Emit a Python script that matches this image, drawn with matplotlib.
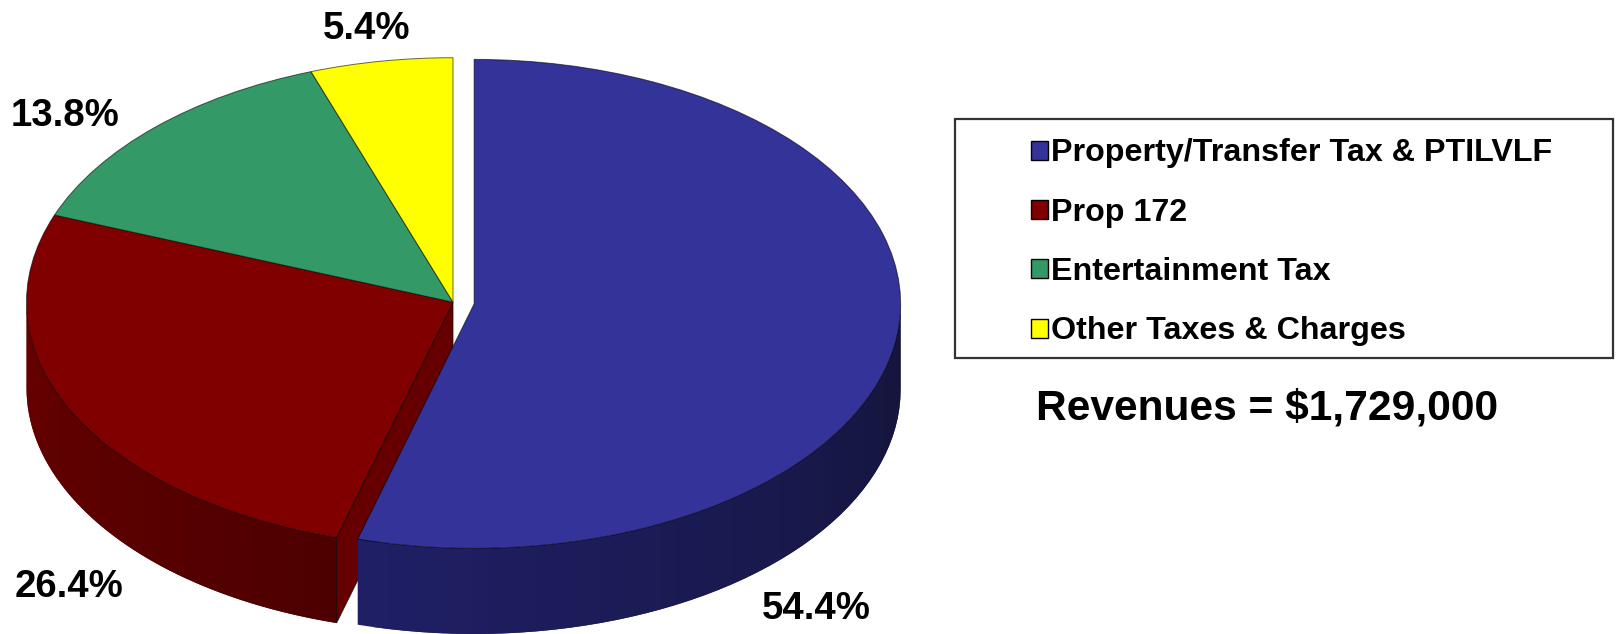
import numpy as np
import matplotlib
matplotlib.use("Agg")
import matplotlib.pyplot as plt
from matplotlib.patches import Patch, Rectangle

plt.rcParams['font.family'] = ['Liberation Sans', 'DejaVu Sans']

# Data.
categories = ['Property/Transfer Tax & PTILVLF', 'Prop 172', 'Entertainment Tax', 'Other Taxes & Charges']
shares = [54.4, 26.4, 13.8, 5.4]
share_labels = ['54.4%', '26.4%', '13.8%', '5.4%']
explode = [0.05, 0, 0, 0]
total_text = 'Revenues = $1,729,000'

# Styles.
top_colors = ['#333399', '#800000', '#339966', '#FFFF00']
wall_start = {0: '#1f1f66', 1: '#680000'}   # left end of the wall
wall_end = {0: '#14143a', 1: '#4d0000'}     # right end of the wall
cut_color = '#660000'

W, H = 1618, 634
cx, cy = 453, 302.2      # pie centre in pixels
rx, ry = 426.5, 244.5    # squashed radius in pixels
depth = 85.6 / ry

fig = plt.figure(figsize=(W / 100, H / 100), dpi=100, facecolor='white')
ax = fig.add_axes([0, 0, 1, 1])
wedges, _ = ax.pie(shares, explode=explode, colors=top_colors, startangle=90, counterclock=False,
                   wedgeprops={'edgecolor': (0, 0, 0, 0.6), 'linewidth': 0.7})
for w in wedges:
    w.set_zorder(5)
ax.set_aspect('auto')
ax.set_xlim(-cx / rx, (W - cx) / rx)
ax.set_ylim((cy - H) / ry, cy / ry)


def mix(c1, c2, t):
    a = np.array(matplotlib.colors.to_rgb(c1))
    b = np.array(matplotlib.colors.to_rgb(c2))
    return a + (b - a) * t


def draw_wall(i, z):
    # Outer side of a slice, only the part that faces the viewer (lower half).
    w = wedges[i]
    t1, t2 = w.theta1 % 360, w.theta2 % 360
    if t2 <= t1:
        t2 += 360
    t1, t2 = max(t1, 180), min(t2, 360)
    edges = np.radians(np.linspace(t1, t2, 49))
    x0, y0 = w.center
    n = len(edges) - 1
    for k in range(n):
        # Each strip runs under the next one, so no seams show between them.
        a = edges[k:k + 3]
        xs = x0 + np.cos(a)
        ys = y0 + np.sin(a)
        col = mix(wall_start[i], wall_end[i], (k + 0.5) / n)
        ax.fill(np.r_[xs, xs[::-1]], np.r_[ys, ys[::-1] - depth],
                facecolor=col, edgecolor='none', zorder=z + k * 0.001)


# Red slice: outer wall and cut face, these sit behind the blue slice.
draw_wall(1, 1)
t = np.radians(wedges[1].theta2)
ex, ey = np.cos(t), np.sin(t)
ax.fill([0, ex, ex, 0], [0, ey, ey - depth, -depth], facecolor=cut_color,
        edgecolor=(0, 0, 0, 0.7), linewidth=0.7, zorder=2)

# Blue slice wall.
draw_wall(0, 3)

# Overlay in pixel coordinates for text and the legend box.
ov = fig.add_axes([0, 0, 1, 1], facecolor='none')
ov.set_xlim(0, W)
ov.set_ylim(H, 0)
ov.axis('off')

label_pos = [(816, 609), (69, 587), (65, 115.5), (367, 29)]
for txt, (x, y) in zip(share_labels, label_pos):
    ov.text(x, y, txt, fontsize=27.6, fontweight='bold', ha='center', va='center', color='black')

ov.add_patch(Rectangle((955, 119), 658, 239, facecolor='white', edgecolor='#333333', linewidth=1.6))
handles = [Patch(facecolor=c, edgecolor='black', linewidth=1.0) for c in top_colors]
ov.legend(handles, categories, loc='upper left', bbox_to_anchor=(1031, 138.5), bbox_transform=ov.transData,
          frameon=False, prop={'size': 23.2, 'weight': 'bold'}, handlelength=0.53, handleheight=0.53,
          handletextpad=0.1, labelspacing=0.91, borderaxespad=0, borderpad=0)

ov.text(1267, 408.5, total_text, fontsize=30.6, fontweight='bold', ha='center', va='center', color='black')

fig.savefig('out.png', dpi=100, facecolor='white')
